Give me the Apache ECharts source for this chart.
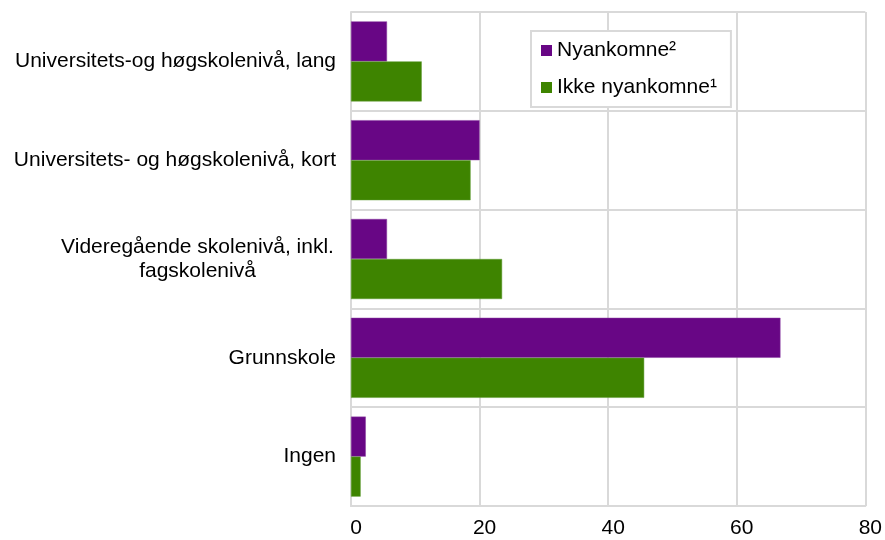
<!DOCTYPE html>
<html>
<head>
<meta charset="utf-8">
<script src="https://cdn.jsdelivr.net/npm/echarts@6/dist/echarts.min.js"></script>
<style>
html,body{margin:0;padding:0;background:#fff;}
#chart{width:885px;height:540px;}
</style>
</head>
<body>
<div id="chart"></div>
<script>
// kategorier, ovenfra og ned
var kategorier = [
    'Universitets-og høgskolenivå, lang',
    'Universitets- og høgskolenivå, kort',
    'Videregående skolenivå, inkl.\nfagskolenivå',
    'Grunnskole',
    'Ingen'
];
var nyankomne = [5.6, 20.0, 5.6, 66.8, 2.3];
var ikkeNyankomne = [11.0, 18.6, 23.5, 45.6, 1.5];
var xTicks = [0, 20, 40, 60, 80];

var chart = echarts.init(document.getElementById('chart'));
var font = '"Liberation Sans", Arial, sans-serif';
var grid = '#d9d9d9';

chart.setOption({
    animation: false,
    textStyle: { fontFamily: font },
    grid: { left: 351, right: 19, top: 12, bottom: 34 },
    legend: {
        orient: 'vertical',
        left: 531,
        top: 31,
        data: ['Nyankomne²', 'Ikke nyankomne¹'],
        icon: 'rect',
        itemWidth: 11,
        itemHeight: 11,
        itemGap: 16,
        itemTextGap: 4,
        padding: [9, 14, 9, 10],
        borderColor: grid,
        borderWidth: 2,
        backgroundColor: '#fff',
        itemStyle: { borderWidth: 0 },
        textStyle: { color: '#000', fontSize: 21, fontFamily: font }
    },
    xAxis: {
        type: 'value',
        min: xTicks[0],
        max: xTicks[xTicks.length - 1],
        interval: 20,
        axisLine: { show: true, lineStyle: { color: grid, width: 2 } },
        axisTick: { show: false },
        splitLine: { show: true, lineStyle: { color: grid, width: 2 } },
        axisLabel: { color: '#000', fontSize: 21, margin: 12, padding: [0, 0, 0, 10] }
    },
    yAxis: {
        type: 'category',
        inverse: true,
        data: kategorier,
        axisLine: { show: true, lineStyle: { color: grid, width: 2 } },
        axisTick: { show: false },
        splitLine: { show: true, lineStyle: { color: grid, width: 2 } },
        axisLabel: {
            color: '#000',
            fontSize: 21,
            margin: 15,
            lineHeight: 24,
            formatter: function (v) {
                if (v.indexOf('\n') < 0) return v;
                return v.split('\n').map(function (l) { return '{c|' + l + '}'; }).join('\n');
            },
            rich: { c: { width: 277, align: 'center', fontSize: 21, lineHeight: 24, color: '#000' } }
        }
    },
    series: [
        {
            name: 'Nyankomne²',
            type: 'bar',
            data: nyankomne,
            barGap: '0%',
            barCategoryGap: '19%',
            itemStyle: { color: '#680685', borderColor: '#8a3fa0', borderWidth: 0.5 }
        },
        {
            name: 'Ikke nyankomne¹',
            type: 'bar',
            data: ikkeNyankomne,
            barGap: '0%',
            barCategoryGap: '19%',
            itemStyle: { color: '#3e8400', borderColor: '#5f9a33', borderWidth: 0.5 }
        }
    ]
});
</script>
</body>
</html>
